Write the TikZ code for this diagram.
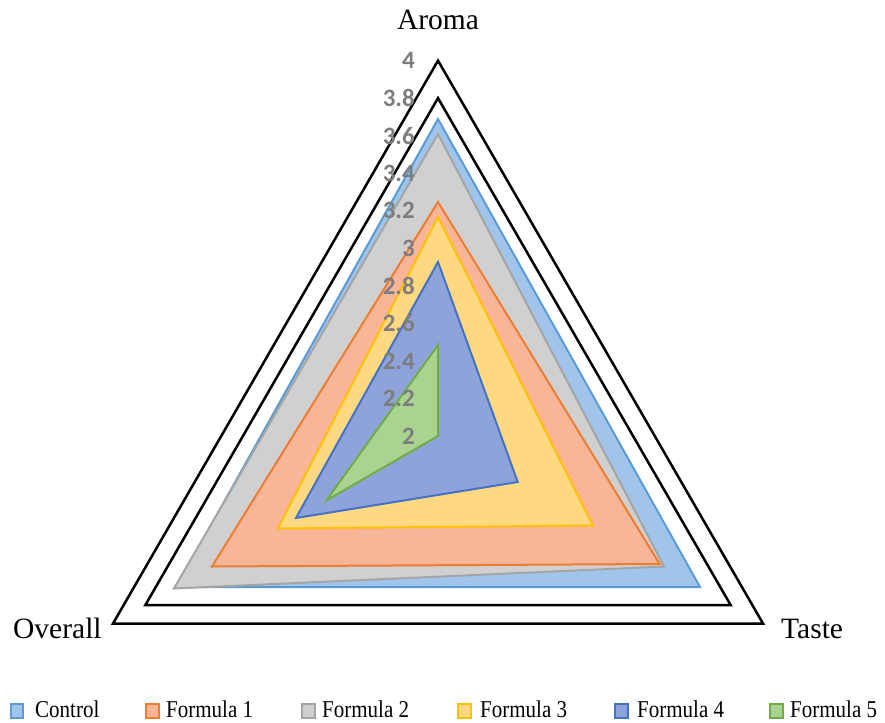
\documentclass[tikz,border=0pt]{standalone}
\usepackage{fontspec}
\setmainfont{Liberation Serif}
\newfontfamily\calib{Carlito}
\definecolor{ctlL}{RGB}{91,155,213}
\definecolor{ctlF}{RGB}{160,196,234}
\definecolor{f1L}{RGB}{237,125,49}
\definecolor{f1F}{RGB}{249,181,152}
\definecolor{f2L}{RGB}{165,165,165}
\definecolor{f2F}{RGB}{208,208,208}
\definecolor{f3L}{RGB}{255,192,0}
\definecolor{f3F}{RGB}{255,217,130}
\definecolor{f4L}{RGB}{68,114,196}
\definecolor{f4F}{RGB}{143,163,219}
\definecolor{f5L}{RGB}{112,173,71}
\definecolor{f5F}{RGB}{170,210,145}
\definecolor{tick}{RGB}{125,125,125}
\tikzset{
  grid/.style={draw=black, line width=2.5pt, line join=miter},
  series/.style={line width=2pt, line join=miter},
  ticklab/.style={anchor=east, inner sep=0pt, text=tick, font=\calib\bfseries\fontsize{25}{25}\selectfont},
  axlab/.style={inner sep=0pt, font=\fontsize{29.5}{30}\selectfont},
  legtext/.style={anchor=base west, inner sep=0pt, font=\fontsize{21}{21}\selectfont},
  legbox/.style={line width=1.5pt}
}
\newcommand{\legtxt}[1]{\scalebox{1}[1.15]{#1}}
\begin{document}
\begin{tikzpicture}[x=1pt,y=-1pt]
\useasboundingbox (0,0) rectangle (885,722);
\coordinate (C) at (438,436);
% grid triangles
\draw[grid] (438,60.6) -- (763.1,623.7) -- (112.9,623.7) -- cycle;
\draw[grid] (438,98.1) -- (730.6,605) -- (145.4,605) -- cycle;
% series
\draw[series, draw=ctlL, fill=ctlF] (438,119) -- (700,587) -- (176.5,587) -- cycle;
\draw[series, draw=f2L, fill=f2F] (438,134) -- (664,566.5) -- (173.9,588.5) -- cycle;
\draw[series, draw=f1L, fill=f1F] (438,202) -- (659.7,564) -- (212,566.5) -- cycle;
\draw[series, draw=f3L, fill=f3F] (438,217) -- (593,525.5) -- (277.8,528.5) -- cycle;
\draw[series, draw=f4L, fill=f4F] (438,262) -- (517.7,482) -- (296,518) -- cycle;
\draw[series, draw=f5L, fill=f5F] (438,345) -- (438,436) -- (326.3,500.5) -- cycle;
% tick labels
\node[ticklab] (t40) at (415,60.6) {4};
\node[ticklab] (t38) at (415,98.1) {3.8};
\node[ticklab] (t36) at (415,135.7) {3.6};
\node[ticklab] (t34) at (415,173.2) {3.4};
\node[ticklab] (t32) at (415,210.8) {3.2};
\node[ticklab] (t30) at (415,248.3) {3};
\node[ticklab] (t28) at (415,285.8) {2.8};
\node[ticklab] (t26) at (415,323.4) {2.6};
\node[ticklab] (t24) at (415,360.9) {2.4};
\node[ticklab] (t22) at (415,398.5) {2.2};
\node[ticklab] (t20) at (415,436) {2};
% axis labels
\node[axlab, anchor=base] (aroma) at (438,30) {Aroma};
\node[axlab, anchor=base west] (overall) at (13,638) {Overall};
\node[axlab, anchor=base west] (taste) at (781,638) {Taste};
% legend
\draw[legbox, draw=ctlL, fill=ctlF] (11,704) rectangle (23,718);
\node[legtext] (lc) at (35,717) {\legtxt{Control}};
\draw[legbox, draw=f1L, fill=f1F] (146,704) rectangle (159,718);
\node[legtext] (l1) at (166,717) {\legtxt{Formula 1}};
\draw[legbox, draw=f2L, fill=f2F] (302,704) rectangle (315,718);
\node[legtext] (l2) at (322,717) {\legtxt{Formula 2}};
\draw[legbox, draw=f3L, fill=f3F] (458,704) rectangle (471,718);
\node[legtext] (l3) at (480,717) {\legtxt{Formula 3}};
\draw[legbox, draw=f4L, fill=f4F] (615,704) rectangle (628,718);
\node[legtext] (l4) at (637,717) {\legtxt{Formula 4}};
\draw[legbox, draw=f5L, fill=f5F] (770,704) rectangle (783,718);
\node[legtext] (l5) at (790,717) {\legtxt{Formula 5}};
\end{tikzpicture}
\end{document}
